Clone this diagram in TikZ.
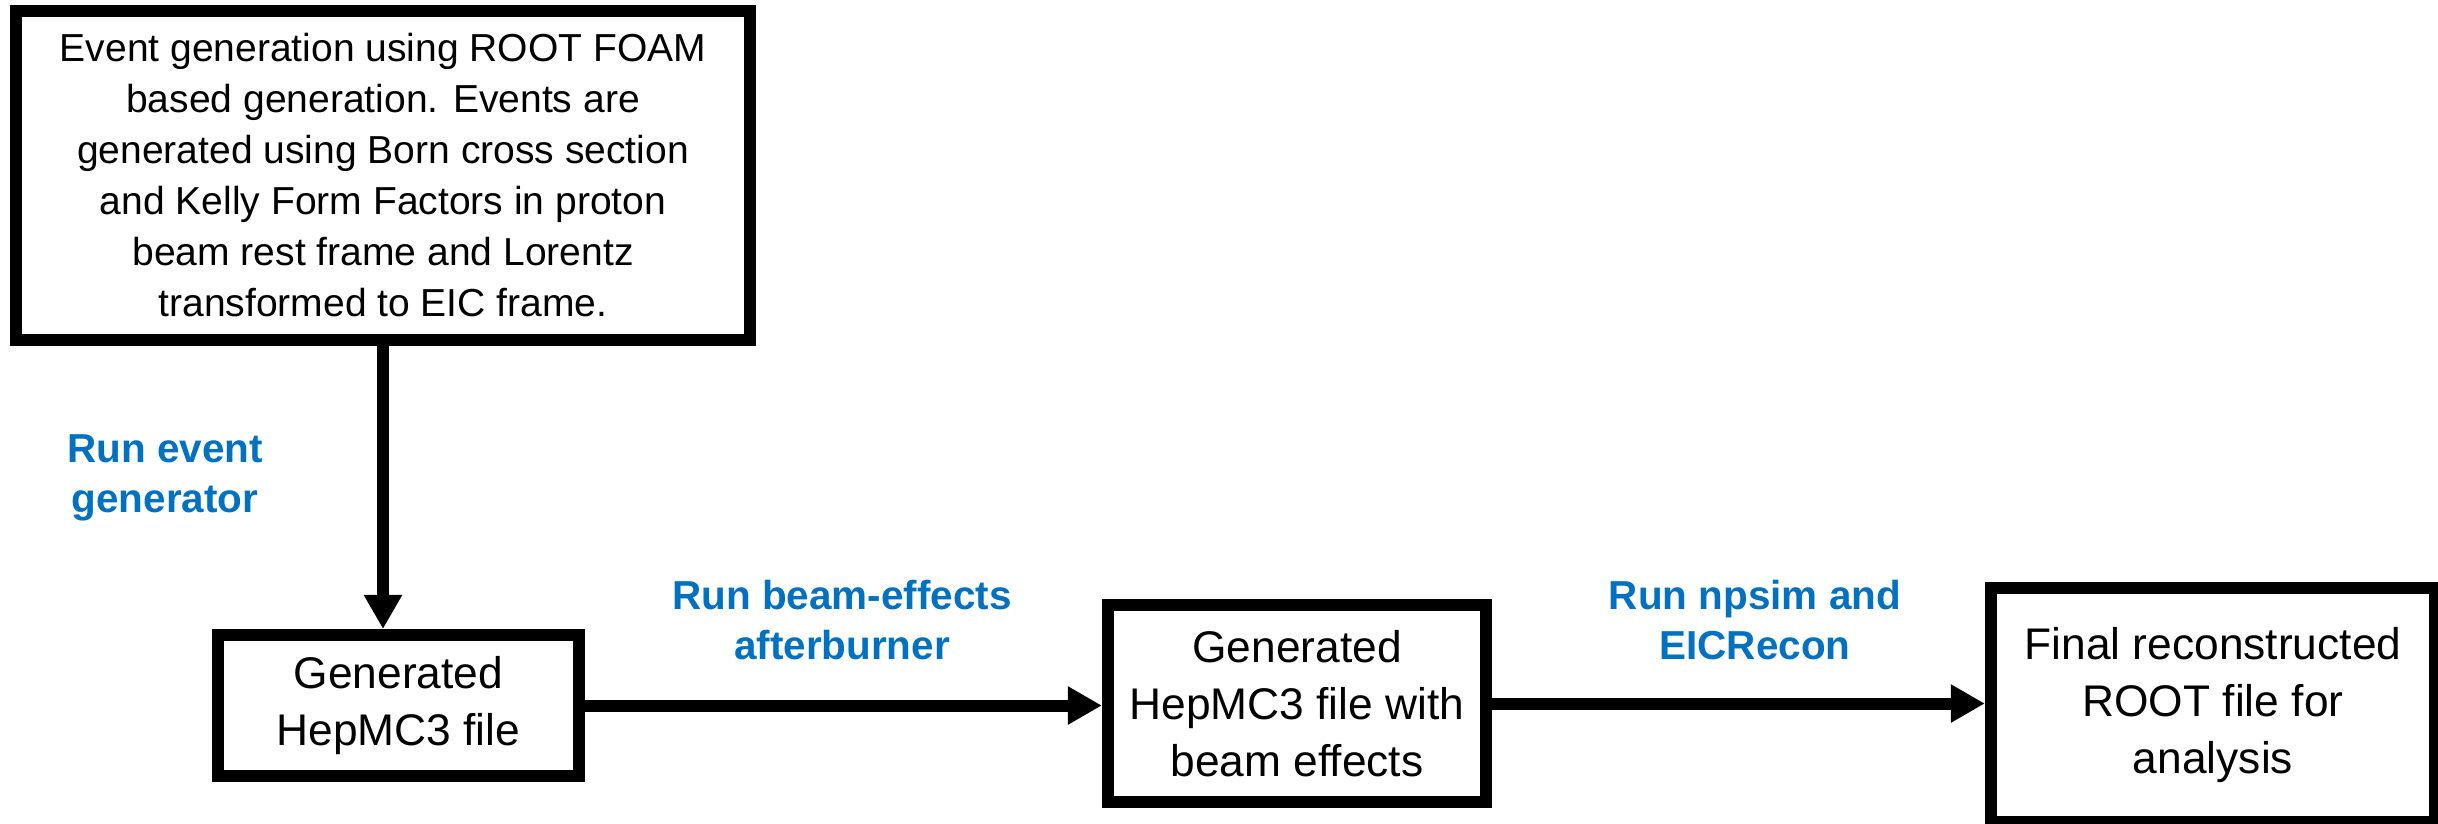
\documentclass[tikz,border=0pt]{standalone}
\usepackage{fontspec}
\setmainfont{Liberation Sans}
\usetikzlibrary{arrows.meta}
\definecolor{runblue}{RGB}{0,112,192}
\begin{document}
\begin{tikzpicture}[x=0.01cm,y=-0.01cm,>={Triangle[length=3.4mm,width=3.6mm]},
		box/.style={draw, line width=1.2mm, align=center, inner sep=0pt, font=\fontsize{12.6}{16.2}\selectfont},
		run/.style={align=center, text=runblue, font=\bfseries\fontsize{11.5}{14.2}\selectfont},
		flow/.style={->, line width=1.2mm}]
	\useasboundingbox (0,0) rectangle (2438,823);
	\node[box, minimum width=7.34cm, minimum height=3.29cm, font=\fontsize{11.1}{14.5}\selectfont] (gen) at (383,175.5) {Event generation using ROOT FOAM\\ based generation. Events are\\ generated using Born cross section\\ and Kelly Form Factors in proton\\ beam rest frame and Lorentz\\ transformed to EIC frame.};
	\node[box, minimum width=3.61cm, minimum height=1.41cm] (hepmc) at (398.5,705.5) {Generated\\ HepMC3 file};
	\node[box, minimum width=3.78cm, minimum height=1.97cm] (beam) at (1297,703.5) {Generated\\ HepMC3 file with\\ beam effects};
	\node[box, minimum width=4.44cm, minimum height=2.34cm] (reco) at (2213,705) {Final reconstructed\\ ROOT file for\\ analysis};
	\draw[flow] (gen.south) -- (gen.south |- hepmc.north);
	\draw[flow] (hepmc.east) -- (hepmc.east -| beam.west);
	\draw[flow] (beam.east) -- (beam.east -| reco.west);
	\node[run] (lblgen) at (165,478) {Run event\\ generator};
	\node[run] (lblbeam) at (842,620) {Run beam-effects\\ afterburner};
	\node[run] (lblsim) at (1755,620) {Run npsim and\\ EICRecon};
\end{tikzpicture}
\end{document}
